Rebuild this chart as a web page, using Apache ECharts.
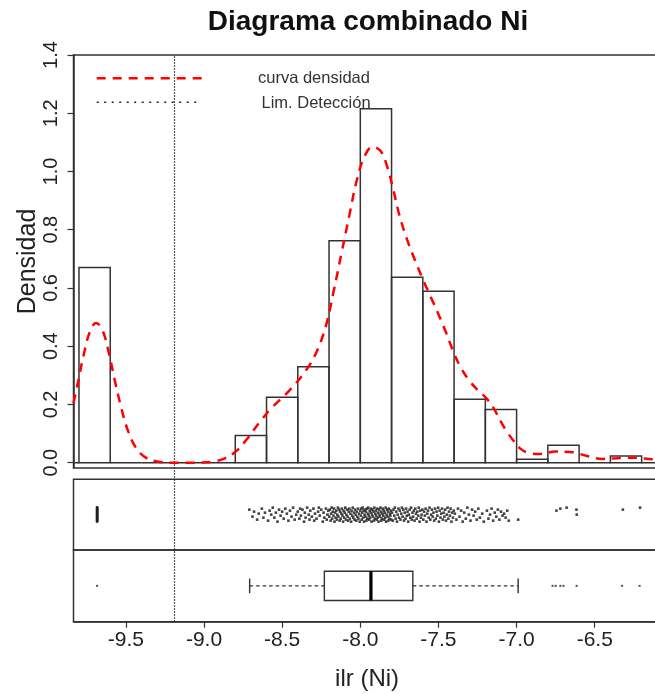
<!DOCTYPE html>
<html><head><meta charset="utf-8">
<script src="https://cdn.jsdelivr.net/npm/echarts@6/dist/echarts.min.js"></script>
<style>html,body{margin:0;padding:0;background:#fff}#c{width:655px;height:694px}</style>
</head><body><div id="c"></div>
<script>
// ---------- data ----------
const xMin = -9.835, xMax = -6.078;
const LD = -9.193; // límite de detección
const xTicks = [-9.5, -9.0, -8.5, -8.0, -7.5, -7.0, -6.5];
const yTicks = [0, 0.2, 0.4, 0.6, 0.8, 1.0, 1.2, 1.4];
const binWidth = 0.2;
const binStarts = [-10.0,-9.8,-9.6,-9.4,-9.2,-9.0,-8.8,-8.6,-8.4,-8.2,-8.0,-7.8,-7.6,-7.4,-7.2,-7.0,-6.8,-6.6,-6.4,-6.2,-6.0];
const densities = [0,0.670,0,0,0,0,0.093,0.225,0.329,0.762,1.215,0.637,0.589,0.218,0.183,0.012,0.060,0,0.023,0,0];
const densX = [-9.835,-9.805,-9.77,-9.73,-9.69,-9.65,-9.61,-9.57,-9.53,-9.49,-9.44,-9.38,-9.3,-9.2,-9.1,-9.0,-8.94,-8.88,-8.8,-8.73,-8.64,-8.56,-8.45,-8.345,-8.28,-8.22,-8.17,-8.12,-8.07,-8.02,-7.97,-7.92,-7.87,-7.83,-7.79,-7.75,-7.70,-7.65,-7.6,-7.55,-7.5,-7.45,-7.4,-7.35,-7.3,-7.25,-7.2,-7.15,-7.1,-7.06,-7.02,-6.98,-6.93,-6.85,-6.75,-6.66,-6.55,-6.45,-6.36,-6.26,-6.13,-6.05];
const densY = [0.204,0.28,0.37,0.45,0.48,0.455,0.38,0.28,0.19,0.115,0.055,0.02,0.004,0.0,0.0,0.001,0.004,0.012,0.037,0.078,0.142,0.192,0.250,0.319,0.38,0.47,0.59,0.72,0.85,0.975,1.055,1.085,1.07,1.02,0.94,0.85,0.765,0.695,0.63,0.57,0.51,0.445,0.375,0.32,0.28,0.25,0.225,0.19,0.14,0.105,0.075,0.05,0.035,0.03,0.038,0.037,0.023,0.013,0.015,0.017,0.012,0.010];
// strip chart: grupo < LD (todos en el mismo valor) y resto de observaciones [x, jitter]
const stripLeftX = -9.684;
const stripLeftJitter = [7.5,7,6.5,6,5.5,5,4.5,4,3.5,3,2.5,2,1.5,1,0.5,0,-0.5,-1,-1.5,-2,-2.5,-3,-3.5,-4,-4.5,-5,-5.5,-6,-6.5,-7];
const stripPoints = [
[-8.71,5],[-8.69,-2],[-8.68,3],[-8.66,-5],[-8.65,1],[-8.63,6],[-8.62,-3],[-8.61,2],
[-8.59,-6],[-8.58,4],[-8.57,0],[-8.56,7],[-8.55,-3],[-8.54,2],[-8.53,-7],[-8.52,5],[-8.51,-1],[-8.50,3],[-8.49,-4],[-8.48,6],[-8.47,1],[-8.46,-6],[-8.45,4],[-8.44,-2],[-8.43,7],[-8.42,-5],[-8.41,0],
[-8.40,3],[-8.39,-4],[-8.385,6],[-8.38,-1],[-8.37,5],[-8.36,-7],[-8.355,2],[-8.35,-3],[-8.34,7],[-8.33,0],[-8.325,-5],[-8.32,4],[-8.31,-2],[-8.30,6],[-8.295,-6],[-8.29,1],[-8.28,-4],[-8.27,3],[-8.265,7],[-8.26,-1],[-8.25,5],[-8.24,-7],[-8.235,2],[-8.23,-3],[-8.22,6],[-8.215,-5],[-8.21,0],[-8.205,4],
[-8.198,-2],[-8.195,5],[-8.19,-6],[-8.187,1],[-8.183,7],[-8.18,-4],[-8.176,3],[-8.172,-1],[-8.168,6],[-8.165,-7],[-8.161,2],[-8.158,-3],[-8.154,4],[-8.15,-5],[-8.147,0],[-8.143,7],[-8.14,-2],[-8.136,5],[-8.132,-6],[-8.129,3],[-8.125,-4],[-8.121,1],[-8.118,6],[-8.114,-1],[-8.11,-7],[-8.107,4],[-8.103,-3],[-8.1,2],[-8.096,7],[-8.092,-5],[-8.089,0],[-8.085,5],[-8.081,-2],[-8.078,-6],[-8.074,3],[-8.07,6],[-8.067,-4],[-8.063,1],[-8.059,-7],[-8.056,4],[-8.052,-1],[-8.048,7],[-8.045,-3],[-8.041,2],[-8.037,-5],[-8.034,5],[-8.03,0],[-8.026,-6],[-8.023,3],[-8.019,-2],[-8.015,6],[-8.012,-4],[-8.008,1],[-8.004,-7],[-8.001,4],
[-7.997,-1],[-7.994,6],[-7.991,-5],[-7.988,2],[-7.985,7],[-7.982,-3],[-7.979,4],[-7.976,-7],[-7.973,0],[-7.97,5],[-7.967,-2],[-7.964,3],[-7.961,-6],[-7.958,6],[-7.955,-4],[-7.952,1],[-7.949,7],[-7.946,-1],[-7.943,-5],[-7.94,4],[-7.937,-3],[-7.934,2],[-7.931,6],[-7.928,-7],[-7.925,0],[-7.922,5],[-7.919,-2],[-7.916,3],[-7.913,-6],[-7.91,7],[-7.907,-4],[-7.904,1],[-7.901,4],[-7.898,-1],[-7.895,-5],[-7.892,6],[-7.889,-3],[-7.886,2],[-7.883,-7],[-7.88,5],[-7.877,0],[-7.874,-2],[-7.871,7],[-7.868,3],[-7.865,-6],[-7.862,-4],[-7.859,1],[-7.856,6],[-7.853,-1],[-7.85,4],[-7.847,-5],[-7.844,2],[-7.841,-3],[-7.838,7],[-7.835,-7],[-7.832,0],[-7.829,5],[-7.826,-2],[-7.823,3],[-7.82,-6],[-7.817,6],[-7.814,-4],[-7.811,1],[-7.808,-1],[-7.805,4],[-7.802,-5],
[-7.797,2],[-7.792,-6],[-7.788,5],[-7.783,-1],[-7.779,7],[-7.774,-4],[-7.77,3],[-7.765,-7],[-7.761,0],[-7.756,6],[-7.752,-3],[-7.747,4],[-7.743,-5],[-7.738,1],[-7.734,7],[-7.729,-2],[-7.725,5],[-7.72,-6],[-7.716,2],[-7.711,-4],[-7.707,6],[-7.702,-1],[-7.698,3],[-7.693,-7],[-7.689,0],[-7.684,5],[-7.68,-3],[-7.675,7],[-7.671,-5],[-7.666,2],[-7.662,-2],[-7.657,4],[-7.653,-6],[-7.648,6],[-7.644,1],[-7.639,-4],[-7.635,3],[-7.63,-1],[-7.626,7],[-7.621,-7],[-7.617,4],[-7.612,-3],[-7.608,0],[-7.603,5],
[-7.597,-5],[-7.592,3],[-7.587,-1],[-7.582,6],[-7.577,-7],[-7.572,1],[-7.567,4],[-7.562,-3],[-7.557,7],[-7.552,-5],[-7.547,0],[-7.542,5],[-7.537,-2],[-7.532,2],[-7.527,-6],[-7.522,6],[-7.517,-4],[-7.512,3],[-7.507,-1],[-7.502,7],[-7.497,-7],[-7.492,4],[-7.487,-3],[-7.482,1],[-7.477,6],[-7.472,-5],[-7.467,2],[-7.462,-2],[-7.457,5],[-7.452,-6],[-7.447,0],[-7.442,7],[-7.437,-4],[-7.432,3],[-7.427,-1],[-7.422,6],[-7.417,-7],[-7.412,2],[-7.407,-3],[-7.402,4],
[-7.395,1],[-7.385,-5],[-7.375,6],[-7.365,-2],[-7.355,4],[-7.345,-7],[-7.335,2],[-7.325,-4],[-7.315,7],[-7.305,0],[-7.295,-6],[-7.285,5],[-7.275,-1],[-7.265,3],[-7.255,-5],[-7.245,6],[-7.235,-3],[-7.22,1],[-7.21,-7],
[-7.19,4],[-7.18,-4],[-7.17,0],[-7.16,6],[-7.15,-6],[-7.14,2],[-7.13,-2],[-7.12,5],[-7.11,-5],[-7.10,3],[-7.09,-1],[-7.08,1],[-7.07,-3],[-7.06,4],[-7.05,-6],
[-6.99,-5],
[-6.745,4],[-6.72,6],[-6.68,7],[-6.617,5],[-6.615,0],
[-6.32,5],[-6.21,7]
];
// boxplot: [bigote inf, Q1, mediana, Q3, bigote sup]
const boxStats = [-8.708, -8.230, -7.932, -7.664, -6.990];
const outliers = [-9.684, -6.77, -6.75, -6.72, -6.70, -6.616, -6.325, -6.213];

// ---------- chart ----------
const FONT = "'Liberation Sans', Arial, sans-serif";
const LINE = '#333';
const chart = echarts.init(document.getElementById('c'), null, {renderer: 'canvas'});
const gLeft = 73.5, gWidth = 587.2;
const grids = [
  {left: gLeft, top: 55, width: gWidth, height: 413},
  {left: gLeft, top: 479.3, width: gWidth, height: 70.7},
  {left: gLeft, top: 550, width: gWidth, height: 71.7},
  {left: gLeft, top: 55, width: gWidth, height: 566.7}
].map((g, i) => Object.assign(g, {
  show: i < 3, borderColor: LINE, borderWidth: 1.5, backgroundColor: 'transparent',
  containLabel: false, outerBoundsMode: 'none'
}));

function hiddenX(idx) {
  return {type: 'value', gridIndex: idx, min: xMin, max: xMax, show: false};
}
const histData = binStarts.map((s, i) => [s, s + binWidth, densities[i]]);

const option = {
  animation: false,
  grid: grids,
  xAxis: [
    hiddenX(0), hiddenX(1),
    {type: 'value', gridIndex: 2, min: xMin, max: xMax, position: 'bottom',
     name: 'ilr (Ni)', nameLocation: 'middle', nameGap: 46, nameMoveOverlap: false,
     nameTextStyle: {fontFamily: FONT, fontSize: 24, color: '#222'},
     axisLine: {show: true, onZero: false, lineStyle: {color: LINE, width: 1.5}},
     axisTick: {show: true, length: 6, customValues: xTicks, lineStyle: {color: LINE, width: 1.2}},
     axisLabel: {show: true, customValues: xTicks, margin: 8, fontFamily: FONT, fontSize: 21, color: '#222',
                 formatter: v => v.toFixed(1)},
     splitLine: {show: false}},
    hiddenX(3)
  ],
  yAxis: [
    {type: 'value', gridIndex: 0, min: -0.0183, max: 1.4,
     name: 'Densidad', nameLocation: 'middle', nameGap: 33, nameRotate: 90, nameMoveOverlap: false,
     nameTextStyle: {fontFamily: FONT, fontSize: 25, color: '#222'},
     axisLine: {show: true, onZero: false, lineStyle: {color: LINE, width: 1.5}},
     axisTick: {show: true, length: 6, customValues: yTicks, lineStyle: {color: LINE, width: 1.2}},
     axisLabel: {show: true, customValues: yTicks, rotate: 90, margin: 12, fontFamily: FONT, fontSize: 20, color: '#222',
                 formatter: v => v.toFixed(1)},
     splitLine: {show: false}},
    {type: 'value', gridIndex: 1, min: -35.35, max: 35.35, show: false},
    {type: 'value', gridIndex: 2, min: -35.85, max: 35.85, show: false},
    {type: 'value', gridIndex: 3, min: 0, max: 1, show: false}
  ],
  graphic: [
    {type: 'text', x: 368, y: 22, style: {text: 'Diagrama combinado Ni', font: 'bold 28px ' + FONT,
      fill: '#111', align: 'center', verticalAlign: 'middle', textAlign: 'center', textVerticalAlign: 'middle'}},
    {type: 'line', shape: {x1: 96.7, y1: 78.3, x2: 206.7, y2: 78.3},
     style: {stroke: '#ff0000', lineWidth: 2.5, lineDash: [9, 7]}},
    {type: 'line', shape: {x1: 96.7, y1: 102.3, x2: 201, y2: 102.3},
     style: {stroke: '#222', lineWidth: 1.6, lineDash: [2, 5.5]}},
    {type: 'text', x: 258, y: 78.5, style: {text: 'curva densidad', font: '16.5px ' + FONT, fill: '#333',
      align: 'left', verticalAlign: 'middle', textAlign: 'left', textVerticalAlign: 'middle'}},
    {type: 'text', x: 261.5, y: 103, style: {text: 'Lim. Detección', font: '16.5px ' + FONT, fill: '#333',
      align: 'left', verticalAlign: 'middle', textAlign: 'left', textVerticalAlign: 'middle'}}
  ],
  series: [
    {type: 'custom', xAxisIndex: 0, yAxisIndex: 0, clip: true, data: histData,
     encode: {x: [0, 1], y: 2},
     renderItem: (params, api) => {
       const p0 = api.coord([api.value(0), 0]);
       const p1 = api.coord([api.value(1), api.value(2)]);
       return {type: 'rect', shape: {x: p0[0], y: p1[1], width: p1[0] - p0[0], height: p0[1] - p1[1]},
               style: {fill: 'none', stroke: LINE, lineWidth: 1.5}};
     }},
    {type: 'line', xAxisIndex: 0, yAxisIndex: 0, smooth: 0.4, showSymbol: false, clip: true,
     data: densX.map((x, i) => [x, densY[i]]),
     lineStyle: {color: '#ff0000', width: 2.5, type: [9, 7]}, z: 5},
    {type: 'scatter', xAxisIndex: 1, yAxisIndex: 1, symbol: 'rect', symbolSize: 2.4,
     data: stripLeftJitter.map(j => [stripLeftX, j]), itemStyle: {color: '#222'}},
    {type: 'scatter', xAxisIndex: 1, yAxisIndex: 1, symbol: 'rect', symbolSize: 2.6,
     data: stripPoints, itemStyle: {color: '#222', opacity: 0.85}},
    {type: 'custom', xAxisIndex: 2, yAxisIndex: 2, data: [boxStats],
     encode: {x: [0, 1, 2, 3, 4]},
     renderItem: (params, api) => {
       const c = v => api.coord([v, 0]);
       const lo = c(api.value(0)), q1 = c(api.value(1)), md = c(api.value(2)), q3 = c(api.value(3)), hi = c(api.value(4));
       const cy = lo[1], hb = 14.6, hs = 7.3;
       const st = {stroke: LINE, lineWidth: 1.4};
       return {type: 'group', children: [
         {type: 'line', shape: {x1: lo[0], y1: cy, x2: q1[0], y2: cy}, style: Object.assign({lineDash: [3.5, 3]}, st)},
         {type: 'line', shape: {x1: q3[0], y1: cy, x2: hi[0], y2: cy}, style: Object.assign({lineDash: [3.5, 3]}, st)},
         {type: 'line', shape: {x1: lo[0], y1: cy - hs, x2: lo[0], y2: cy + hs}, style: st},
         {type: 'line', shape: {x1: hi[0], y1: cy - hs, x2: hi[0], y2: cy + hs}, style: st},
         {type: 'rect', shape: {x: q1[0], y: cy - hb, width: q3[0] - q1[0], height: 2 * hb}, style: {fill: '#fff', stroke: LINE, lineWidth: 1.4}},
         {type: 'line', shape: {x1: md[0], y1: cy - hb, x2: md[0], y2: cy + hb}, style: {stroke: '#000', lineWidth: 3.2}}
       ]};
     }},
    {type: 'scatter', xAxisIndex: 2, yAxisIndex: 2, symbol: 'rect', symbolSize: 2,
     data: outliers.map(v => [v, 0]), itemStyle: {color: '#222'}},
    {type: 'scatter', xAxisIndex: 3, yAxisIndex: 3, data: [], silent: true,
     markLine: {silent: true, symbol: 'none', label: {show: false}, animation: false,
       lineStyle: {color: '#222', width: 1.2, type: [1.5, 1.5]}, data: [{xAxis: LD}]}}
  ]
};
chart.setOption(option);
</script></body></html>
